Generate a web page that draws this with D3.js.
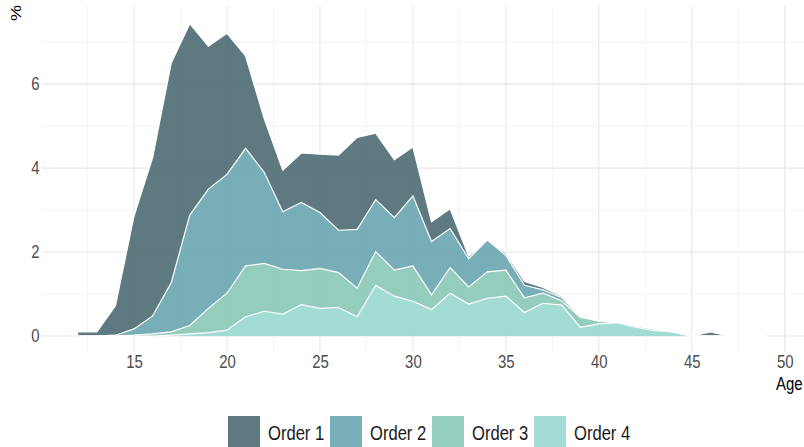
<!DOCTYPE html>
<html>
<head>
<meta charset="utf-8">
<script src="https://cdn.jsdelivr.net/npm/d3@7"></script>
<style>
  body { margin: 0; background: #fff; }
  text { font-family: "Liberation Sans", Arial, sans-serif; }
</style>
</head>
<body>
<div id="chart"></div>
<script>
// values, % per age
const ages = [12, 13, 14, 15, 16, 17, 18, 19, 20, 21, 22, 23, 24, 25, 26, 27, 28, 29, 30,
    31, 32, 33, 34, 35, 36, 37, 38, 39, 40, 41, 42, 43, 44, 45, 46, 47, 48, 49]
const order1 = [0.1, 0.1, 0.70, 2.69, 3.77, 5.23, 4.56, 3.40, 3.36, 2.20, 1.28, 0.99, 1.18, 1.39, 1.79, 2.19, 1.58, 1.38, 1.16,
    0.47, 0.47, 0.06, 0, 0.05, 0.09, 0.06, 0.03, 0.01, 0, 0, 0, 0, 0, 0, 0.1, 0, 0, 0]
const order2 = [0, 0, 0.02, 0.15, 0.43, 1.17, 2.63, 2.84, 2.83, 2.80, 2.17, 1.37, 1.62, 1.33, 1.01, 1.40, 1.24, 1.25, 1.67,
    1.27, 0.93, 0.67, 0.76, 0.35, 0.30, 0.08, 0.08, 0.01, 0, 0.01, 0.01, 0, 0, 0, 0, 0, 0, 0]
const order3 = [0, 0, 0, 0.02, 0.05, 0.08, 0.20, 0.58, 0.88, 1.21, 1.14, 1.07, 0.81, 0.95, 0.83, 0.68, 0.80, 0.62, 0.84,
    0.35, 0.61, 0.41, 0.63, 0.62, 0.35, 0.24, 0.10, 0.24, 0.07, 0, 0.03, 0.04, 0, 0, 0, 0, 0, 0]
const order4 = [0, 0, 0, 0, 0, 0.02, 0.05, 0.08, 0.14, 0.46, 0.59, 0.52, 0.75, 0.66, 0.68, 0.46, 1.21, 0.95, 0.83,
    0.63, 1.02, 0.76, 0.90, 0.95, 0.56, 0.78, 0.74, 0.21, 0.29, 0.32, 0.21, 0.13, 0.10, 0, 0, 0, 0, 0]
const seriesNames = ["Order 1", "Order 2", "Order 3", "Order 4"]
const xTicks = [15, 20, 25, 30, 35, 40, 45, 50]
const xMinor = [12.5, 17.5, 22.5, 27.5, 32.5, 37.5, 42.5, 47.5]
const yTicks = [0, 2, 4, 6]
const yMinor = [1, 3, 5, 7]
const colors = ["#4c6c72", "#68a5b0", "#88c7b7", "#99d8cf"]

const w = 804
const h = 447
const squeeze = 0.83   // text in the picture is a bit narrow

const svg = d3.select("#chart")
    .append("svg")
    .attr("width", w)
    .attr("height", h)

// scales, panel goes a bit past the right edge
const xScale = d3.scaleLinear().domain([10.05, 51.95]).range([42, 821])
const yScale = d3.scaleLinear().domain([-0.38, 7.86]).range([352, 6])

// grid
const grid = svg.append("g")
grid.selectAll(".vminor").data(xMinor).enter().append("line")
    .attr("x1", d => xScale(d)).attr("x2", d => xScale(d))
    .attr("y1", 6).attr("y2", 352)
    .attr("stroke", "#ebebeb").attr("stroke-width", 0.6)
grid.selectAll(".hminor").data(yMinor).enter().append("line")
    .attr("x1", 42).attr("x2", 821)
    .attr("y1", d => yScale(d)).attr("y2", d => yScale(d))
    .attr("stroke", "#ebebeb").attr("stroke-width", 0.6)
grid.selectAll(".vmajor").data(xTicks).enter().append("line")
    .attr("x1", d => xScale(d)).attr("x2", d => xScale(d))
    .attr("y1", 6).attr("y2", 352)
    .attr("stroke", "#e6e6e6").attr("stroke-width", 1.1)
grid.selectAll(".hmajor").data(yTicks).enter().append("line")
    .attr("x1", 42).attr("x2", 821)
    .attr("y1", d => yScale(d)).attr("y2", d => yScale(d))
    .attr("stroke", "#e6e6e6").attr("stroke-width", 1.1)

// stacked areas, order 4 at the bottom
const rows = ages.map((a, i) => ({
    age: a,
    "Order 1": order1[i],
    "Order 2": order2[i],
    "Order 3": order3[i],
    "Order 4": order4[i]
}))
const stacked = d3.stack().keys(seriesNames.slice().reverse())(rows)
const byName = {}
stacked.forEach(s => byName[s.key] = s)

const area = d3.area()
    .x(d => xScale(d.data.age))
    .y0(d => yScale(d[0]))
    .y1(d => yScale(d[1]))
const topLine = d3.line()
    .x(d => xScale(d.data.age))
    .y(d => yScale(d[1]))

seriesNames.forEach((name, i) => {
    svg.append("path")
        .attr("d", area(byName[name]))
        .attr("fill", colors[i])
        .attr("fill-opacity", 0.9)
})
seriesNames.forEach((name) => {
    svg.append("path")
        .attr("d", topLine(byName[name]))
        .attr("fill", "none")
        .attr("stroke", "#fff")
        .attr("stroke-width", 1.2)
})

// axes
const xAxis = d3.axisBottom(xScale).tickValues(xTicks).tickSize(0).tickPadding(3)
const gx = svg.append("g")
    .attr("transform", "translate(0,352)")
    .call(xAxis)
const yAxis = d3.axisLeft(yScale).tickValues(yTicks).tickSize(0).tickPadding(3)
const gy = svg.append("g")
    .attr("transform", "translate(42,0)")
    .call(yAxis)
;[gx, gy].forEach(g => {
    g.select(".domain").remove()
    g.selectAll("text")
        .attr("font-size", 18)
        .attr("font-family", "Liberation Sans, Arial, sans-serif")
        .attr("fill", "#4d4d4d")
        .attr("transform", `scale(${squeeze},1)`)
})

// axis titles
svg.append("text")
    .attr("transform", `translate(776,390) scale(${squeeze},1)`)
    .attr("font-size", 18)
    .attr("fill", "#000")
    .text("Age")
svg.append("text")
    .attr("transform", `translate(21,5) rotate(-90) scale(1,${squeeze})`)
    .attr("text-anchor", "end")
    .attr("font-size", 18)
    .attr("fill", "#000")
    .text("%")

// legend
const legend = svg.append("g")
seriesNames.forEach((name, i) => {
    const lx = 228 + i * 102
    legend.append("rect")
        .attr("x", lx).attr("y", 416)
        .attr("width", 32).attr("height", 31)
        .attr("fill", colors[i])
        .attr("fill-opacity", 0.9)
    legend.append("text")
        .attr("transform", `translate(${lx + 40},440) scale(${squeeze},1)`)
        .attr("font-size", 20)
        .attr("fill", "#1a1a1a")
        .text(name)
})
</script>
</body>
</html>
